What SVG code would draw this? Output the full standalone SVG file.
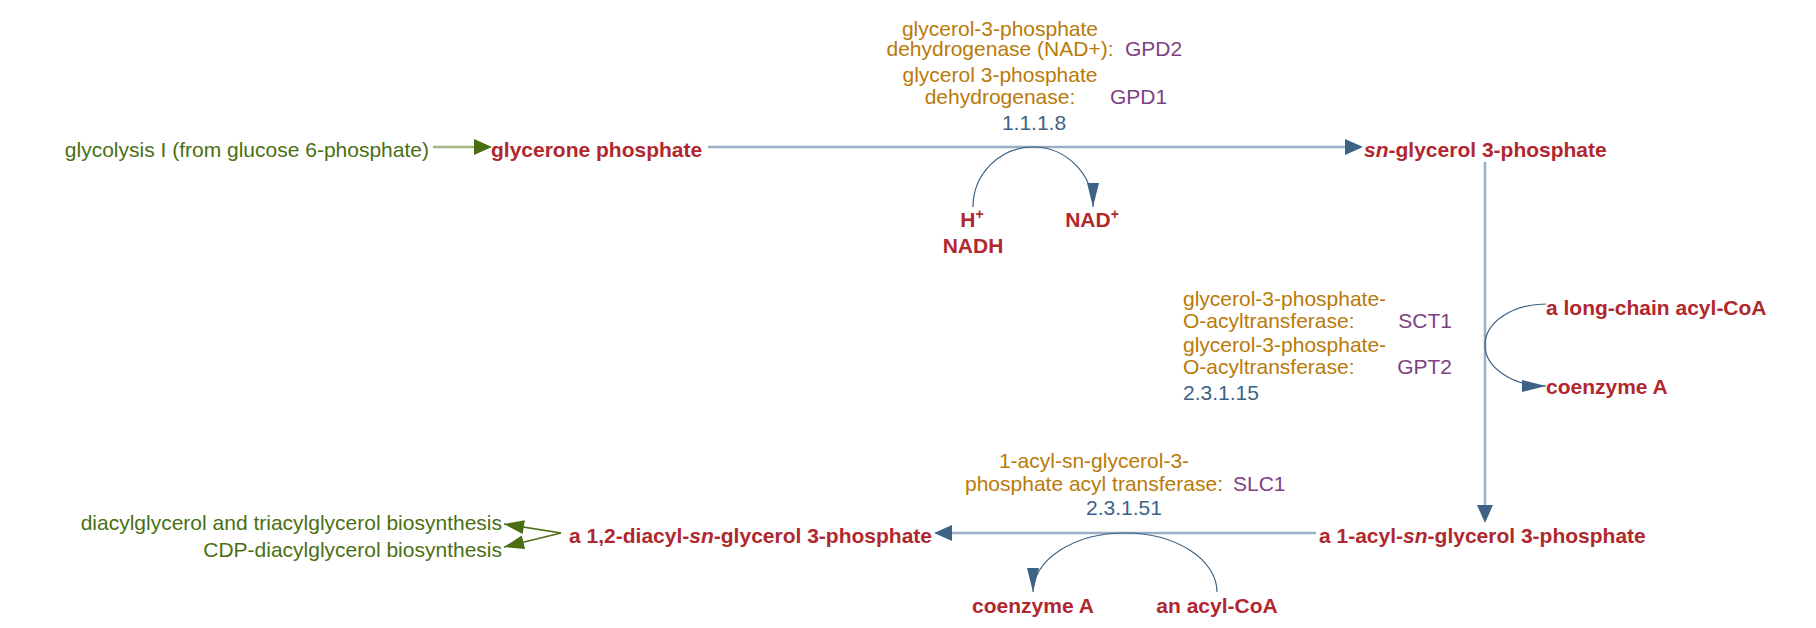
<svg xmlns="http://www.w3.org/2000/svg" width="1816" height="628" viewBox="0 0 1816 628">
<style>
text{font-family:"Liberation Sans",Arial,Helvetica,sans-serif;font-size:21px}
.cpd{font-weight:bold;fill:#b0282e}
.enz{fill:#b97a08}
.gene{fill:#7e3f84}
.ec{fill:#3e6286}
.pw{fill:#4a6f12}
.main{fill:none;stroke:#9aaec4;stroke-width:2.5}
.arc{fill:none;stroke:#3e6286;stroke-width:1.2}
.gmain{fill:none;stroke:#a3b785;stroke-width:2.5}
.glink{fill:none;stroke:#4a6f12;stroke-width:1.5}
.sup{font-size:14px}
</style>
<defs>
<marker id="mMain" markerUnits="userSpaceOnUse" markerWidth="18" markerHeight="16" refX="0" refY="8" orient="auto" overflow="visible">
<path d="M0,0 L18,8 L0,16 z" fill="#3e6286"/>
</marker>
<marker id="mArc" markerUnits="userSpaceOnUse" markerWidth="24" markerHeight="12" refX="24" refY="6" orient="auto" overflow="visible">
<path d="M0,0 L24,6 L0,12 z" fill="#3e6286"/>
</marker>
<marker id="mGreen" markerUnits="userSpaceOnUse" markerWidth="18" markerHeight="16" refX="0" refY="8" orient="auto" overflow="visible">
<path d="M0,0 L18,8 L0,16 z" fill="#4a6f12"/>
</marker>
<marker id="mGreen2" markerUnits="userSpaceOnUse" markerWidth="20" markerHeight="14" refX="20" refY="7" orient="auto" overflow="visible">
<path d="M0,0 L20,7 L0,14 z" fill="#4a6f12"/>
</marker>
</defs>

<g id="connectors">
<path class="gmain" d="M433,147 L474,147" marker-end="url(#mGreen)"/>
<path class="main" d="M708,147 L1345,147" marker-end="url(#mMain)"/>
<path class="main" d="M1485,162 L1485,505" marker-end="url(#mMain)"/>
<path class="main" d="M1316,533 L952,533" marker-end="url(#mMain)"/>
<path class="arc" d="M973,207 A60,60 0 0 1 1093,207" marker-end="url(#mArc)"/>
<path class="arc" d="M1546,304 A61,41 0 0 0 1546,386" marker-end="url(#mArc)"/>
<path class="arc" d="M1217,592 A92,59 0 0 0 1033,592" marker-end="url(#mArc)"/>
<path class="glink" d="M561,533 L504,524" marker-end="url(#mGreen2)"/>
<path class="glink" d="M561,533 L504,547" marker-end="url(#mGreen2)"/>
</g>

<g id="pw-glycolysis"><text class="pw" x="429" y="157" text-anchor="end">glycolysis I (from glucose 6-phosphate)</text></g>
<g id="pw-dag-tag"><text class="pw" x="502" y="530" text-anchor="end">diacylglycerol and triacylglycerol biosynthesis</text></g>
<g id="pw-cdp-dag"><text class="pw" x="502" y="557" text-anchor="end">CDP-diacylglycerol biosynthesis</text></g>

<g id="glycerone-phosphate"><text class="cpd" x="491" y="157">glycerone phosphate</text></g>
<g id="sn-glycerol-3-phosphate"><text class="cpd" x="1364" y="157"><tspan font-style="italic">sn</tspan>-glycerol 3-phosphate</text></g>
<g id="acyl-glycerol-3-phosphate"><text class="cpd" x="1319" y="543">a 1-acyl-<tspan font-style="italic">sn</tspan>-glycerol 3-phosphate</text></g>
<g id="diacyl-glycerol-3-phosphate"><text class="cpd" x="932" y="543" text-anchor="end">a 1,2-diacyl-<tspan font-style="italic">sn</tspan>-glycerol 3-phosphate</text></g>

<g id="h-plus"><text class="cpd" x="972" y="227" text-anchor="middle">H<tspan class="sup" dy="-8">+</tspan></text></g>
<g id="nadh"><text class="cpd" x="973" y="253" text-anchor="middle">NADH</text></g>
<g id="nad-plus"><text class="cpd" x="1092" y="227" text-anchor="middle">NAD<tspan class="sup" dy="-8">+</tspan></text></g>
<g id="long-chain-acyl-coa"><text class="cpd" x="1546" y="315">a long-chain acyl-CoA</text></g>
<g id="coenzyme-a-1"><text class="cpd" x="1546" y="394">coenzyme A</text></g>
<g id="coenzyme-a-2"><text class="cpd" x="1033" y="613" text-anchor="middle">coenzyme A</text></g>
<g id="acyl-coa"><text class="cpd" x="1217" y="613" text-anchor="middle">an acyl-CoA</text></g>

<g id="enzyme-1.1.1.8">
<text class="enz" x="1000" y="36" text-anchor="middle">glycerol-3-phosphate</text>
<text class="enz" x="1000" y="56" text-anchor="middle">dehydrogenase (NAD+):</text>
<text class="gene" x="1125" y="56">GPD2</text>
<text class="enz" x="1000" y="82" text-anchor="middle">glycerol 3-phosphate</text>
<text class="enz" x="1000" y="104" text-anchor="middle">dehydrogenase:</text>
<text class="gene" x="1110" y="104">GPD1</text>
<text class="ec" x="1034" y="130" text-anchor="middle">1.1.1.8</text>
</g>

<g id="enzyme-2.3.1.15">
<text class="enz" x="1183" y="306">glycerol-3-phosphate-</text>
<text class="enz" x="1183" y="328">O-acyltransferase:</text>
<text class="gene" x="1452" y="328" text-anchor="end">SCT1</text>
<text class="enz" x="1183" y="352">glycerol-3-phosphate-</text>
<text class="enz" x="1183" y="374">O-acyltransferase:</text>
<text class="gene" x="1452" y="374" text-anchor="end">GPT2</text>
<text class="ec" x="1183" y="400">2.3.1.15</text>
</g>

<g id="enzyme-2.3.1.51">
<text class="enz" x="1094" y="468" text-anchor="middle">1-acyl-sn-glycerol-3-</text>
<text class="enz" x="1094" y="491" text-anchor="middle">phosphate acyl transferase:</text>
<text class="gene" x="1233" y="491">SLC1</text>
<text class="ec" x="1124" y="515" text-anchor="middle">2.3.1.51</text>
</g>
</svg>
